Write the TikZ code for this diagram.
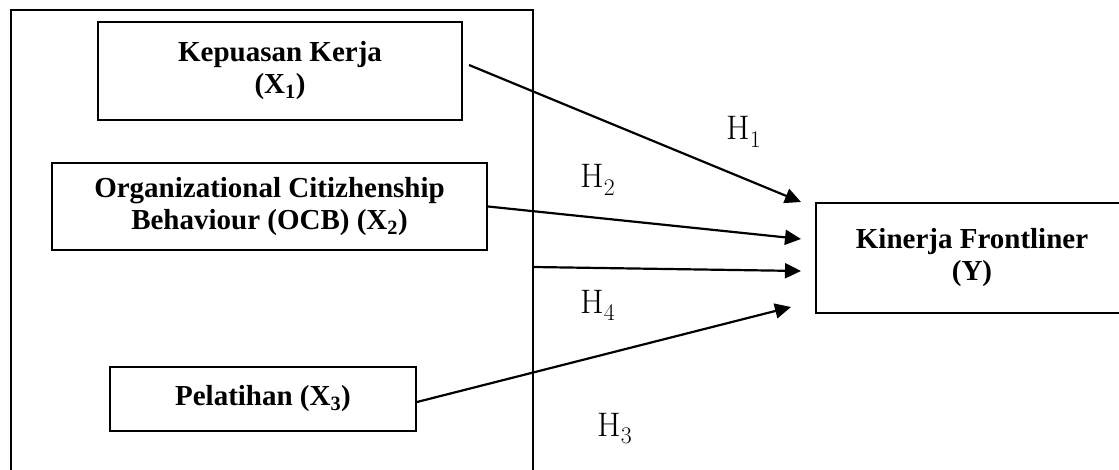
\documentclass[tikz,border=0pt]{standalone}
\usepackage{fontspec}
\newfontfamily\boxfont{Liberation Serif}
\usetikzlibrary{arrows.meta,positioning,calc}

\begin{document}
\begin{tikzpicture}[
    x=1pt, y=-1pt,
    every node/.style={inner sep=0pt},
    varbox/.style={
        draw, line width=2pt,
        align=center,
        font=\boxfont\bfseries\fontsize{29}{32}\selectfont
    },
    hlabel/.style={anchor=base west, font=\fontsize{34}{38}\selectfont},
    path/.style={line width=2.2pt, -{Triangle[length=16pt,width=15pt]}}
]
\clip (0,0) rectangle (1119,470);
% outer frame
\draw[line width=2pt] (11,472) -- (11,10) -- (533,10) -- (533,472);
\coordinate (f4) at (533,267);
% variables
\node[varbox, minimum width=364pt, minimum height=98pt] (kepuasan) at (280,71)
    {Kepuasan Kerja\\(X\textsubscript{1})};
\node[varbox, minimum width=435pt, minimum height=87pt] (ocb) at (269.5,206.5)
    {Organizational Citizhenship\\Behaviour (OCB) (X\textsubscript{2})};
\node[varbox, minimum width=306pt, minimum height=64pt] (pelatihan) at (263,399)
    {Pelatihan (X\textsubscript{3})};
\node[varbox, minimum width=312pt, minimum height=110pt] (kinerja) at (972,258)
    {Kinerja Frontliner\\(Y)};
% arrow ends
\coordinate (s1) at ($(kepuasan.east)+(6,-6)$);
\coordinate (s4) at ($(pelatihan.east)+(0,3)$);
\coordinate (t1) at ($(kinerja.north west)+(-14,0)$);
\coordinate (t2) at ($(kinerja.west)+(-14,-19)$);
\coordinate (t3) at ($(kinerja.west)+(-14,13)$);
\coordinate (t4) at ($(kinerja.west)+(-24,49)$);
\draw[path] (s1) -- (t1);
\draw[path] (ocb.east) -- (t2);
\draw[path] (f4) -- (t3);
\draw[path] (s4) -- (t4);
% hypotheses
\node[hlabel] (h1) at (726,140) {H\textsubscript{1}};
\node[hlabel] (h2) at (580,188) {H\textsubscript{2}};
\node[hlabel] (h4) at (580,313) {H\textsubscript{4}};
\node[hlabel] (h3) at (597,436) {H\textsubscript{3}};
\end{tikzpicture}
\end{document}
